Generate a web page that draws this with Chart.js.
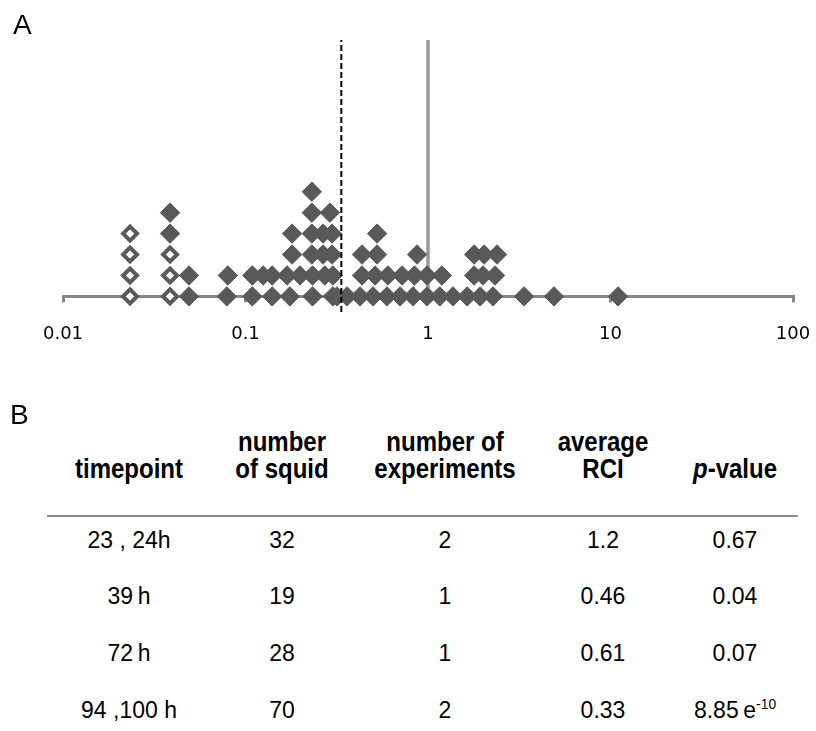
<!DOCTYPE html>
<html>
<head>
<meta charset="utf-8">
<script src="https://cdn.jsdelivr.net/npm/chart.js@4/dist/chart.umd.min.js"></script>
<style>
  html, body { margin: 0; padding: 0; background: #fff; }
  body { width: 816px; height: 731px; position: relative; overflow: hidden; font-family: "Liberation Sans", Arial, sans-serif; color: #000; }
  #chartBox { position: absolute; left: 0; top: 0; width: 816px; height: 370px; }
  .t { position: absolute; white-space: nowrap; line-height: 1; }
  .panel { position: absolute; font-size: 28px; line-height: 1; }
  .hd { font-weight: bold; font-size: 24px; transform: translate(-50%, -50%) scaleY(1.15); }
  .cell { font-size: 23px; transform: translate(-50%, -50%) scaleY(1.08); }
  #rule { position: absolute; left: 47px; width: 751px; top: 515px; height: 2px; background: #8c8c8c; }
  sup { font-size: 0.6em; vertical-align: 0; position: relative; top: -0.55em; }
</style>
</head>
<body>
<div id="chartBox"><canvas id="c" width="816" height="370"></canvas></div>
<div class="panel" style="left:13px; top:11px;">A</div>
<div class="panel" style="left:10px; top:401px;">B</div>
<div id="rule"></div>
<div id="table"></div>
<script>
// ---------- Panel A data ----------
const xTickValues = [0.01, 0.1, 1, 10, 100];
const xTickLabels = ['0.01', '0.1', '1', '10', '100'];

// filled diamonds: RCI value of each squid and its stack position (0 = on the axis)
const filledRCI = [
  0.0386, 0.0386, 0.049, 0.049, 0.079, 0.080,
  0.109, 0.140, 0.175, 0.233, 0.301, 0.317,
  0.360, 0.424, 0.500, 0.596, 0.703, 0.828, 0.988, 1.16, 1.37, 1.64, 1.93, 2.27, 3.36, 4.90, 11.0,
  0.109, 0.125, 0.140, 0.169, 0.199, 0.233, 0.272, 0.301,
  0.435, 0.513, 0.603, 0.721, 0.843, 0.988, 1.19, 1.79, 2.00, 2.33,
  0.180, 0.231, 0.266, 0.298, 0.435, 0.526, 0.871, 1.79, 2.03, 2.39,
  0.180, 0.231, 0.266, 0.298, 0.526,
  0.231, 0.290,
  0.231
];
const filledLevel = [
  3, 4, 0, 1, 0, 1,
  0, 0, 0, 0, 0, 0,
  0, 0, 0, 0, 0, 0, 0, 0, 0, 0, 0, 0, 0, 0, 0,
  1, 1, 1, 1, 1, 1, 1, 1,
  1, 1, 1, 1, 1, 1, 1, 1, 1, 1,
  2, 2, 2, 2, 2, 2, 2, 2, 2, 2,
  3, 3, 3, 3, 3,
  4, 4,
  5
];
// open diamonds
const openRCI = [0.0233, 0.0233, 0.0233, 0.0233, 0.0386, 0.0386, 0.0386];
const openLevel = [0, 1, 2, 3, 0, 1, 2];

const meanRCI = 0.335;     // dashed line
const neutralRCI = 1;      // solid grey line
const lineTop = 12.25;
const dashBottom = -0.75;

// ---------- Panel B data ----------
const colCenters = [129, 282, 445, 603, 735];
const headerLine1 = ['', 'number', 'number of', 'average', ''];
const headerLine2 = ['timepoint', 'of squid', 'experiments', 'RCI', '<i>p</i>-value'];
const timepoints = ['23 , 24h', '39\u2009h', '72\u2009h', '94 ,100 h'];
const squidCounts = ['32', '19', '28', '70'];
const experimentCounts = ['2', '1', '1', '2'];
const averageRCI = ['1.2', '0.46', '0.61', '0.33'];
const pValues = ['0.67', '0.04', '0.07', '8.85\u2009e<sup>-10</sup>'];
const rowCenters = [540, 596, 653, 710];

// ---------- build table ----------
const tbl = document.getElementById('table');
function addText(html, x, y, cls) {
  const d = document.createElement('div');
  d.className = 't ' + cls;
  d.style.left = x + 'px';
  d.style.top = y + 'px';
  d.innerHTML = html;
  tbl.appendChild(d);
}
headerLine1.forEach((h, i) => { if (h) addText(h, colCenters[i], 442, 'hd'); });
headerLine2.forEach((h, i) => addText(h, colCenters[i], 469, 'hd'));
const cols = [timepoints, squidCounts, experimentCounts, averageRCI, pValues];
rowCenters.forEach((y, r) => {
  cols.forEach((col, c) => addText(col[r], colCenters[c], y, 'cell'));
});

// ---------- chart ----------
const grey = '#878787';
const dark = '#595959';
new Chart(document.getElementById('c'), {
  type: 'scatter',
  data: {
    datasets: [
      {
        label: 'mean',
        data: [{ x: meanRCI, y: dashBottom }, { x: meanRCI, y: lineTop }],
        showLine: true, borderColor: '#000', borderWidth: 2, borderDash: [6, 3],
        pointRadius: 0, order: 0, clip: false
      },
      {
        label: 'filled',
        data: filledRCI.map((v, i) => ({ x: v, y: filledLevel[i] })),
        pointStyle: 'rectRot', pointRadius: 9.7, backgroundColor: dark, borderColor: dark,
        borderWidth: 1, order: 1, clip: false
      },
      {
        label: 'open',
        data: openRCI.map((v, i) => ({ x: v, y: openLevel[i] })),
        pointStyle: 'rectRot', pointRadius: 7, backgroundColor: '#fff', borderColor: dark,
        borderWidth: 4, order: 2, clip: false
      },
      {
        label: 'neutral',
        data: [{ x: neutralRCI, y: 0 }, { x: neutralRCI, y: lineTop }],
        showLine: true, borderColor: '#999', borderWidth: 3.5, pointRadius: 0, order: 3, clip: false
      }
    ]
  },
  options: {
    responsive: false,
    animation: false,
    devicePixelRatio: 1,
    events: [],
    layout: { padding: { left: 63, right: 23, top: 40, bottom: 4 } },
    plugins: { legend: { display: false }, tooltip: { enabled: false } },
    scales: {
      x: {
        type: 'logarithmic',
        min: 0.01, max: 100,
        afterBuildTicks: (s) => { s.ticks = xTickValues.map(v => ({ value: v })); },
        afterFit: (s) => { s.paddingLeft = 0; s.paddingRight = 0; },
        ticks: {
          callback: (v, i) => xTickLabels[i],
          font: { family: 'DejaVu Sans', size: 18 },
          color: '#000', padding: 21, maxRotation: 0, autoSkip: false
        },
        grid: { display: true, drawOnChartArea: false, drawTicks: true, tickLength: 6, color: grey, lineWidth: 3 },
        border: { display: true, color: grey, width: 3 }
      },
      y: { min: 0, max: lineTop, display: false }
    }
  }
});
</script>
</body>
</html>
